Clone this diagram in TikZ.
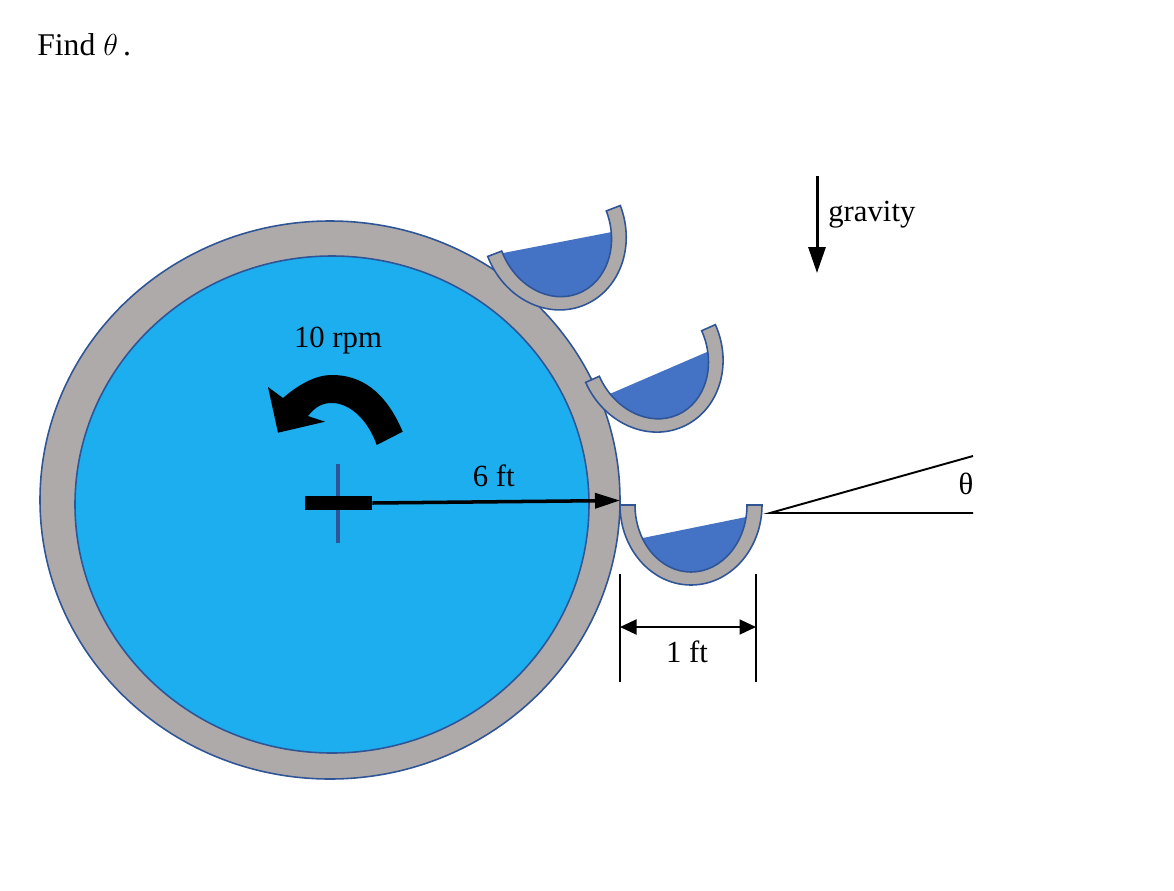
\documentclass[tikz,border=0pt]{standalone}
\usepackage{fontspec}
\setmainfont{Liberation Serif}
\usetikzlibrary{arrows.meta}
\definecolor{rimgrey}{HTML}{AEAAAA}
\definecolor{drumblue}{HTML}{1CAEEE}
\definecolor{waterblue}{HTML}{4472C4}
\definecolor{edgeblue}{HTML}{2F5597}
\tikzset{
  label/.style={font=\fontsize{17.5}{20}\selectfont, inner sep=0pt},
  rimline/.style={draw=edgeblue, line width=0.9pt, fill=rimgrey},
  dimline/.style={draw=black, line width=1.1pt},
  pics/bucket/.style 2 args={code={
    \begin{scope}
      \clip (-56,0) arc (180:360:56 and 67) -- cycle;
      \fill[waterblue] (-60,#1) -- (60,#2) -- (60,-80) -- (-60,-80) -- cycle;
    \end{scope}
    \path[rimline] (-71,0) arc (180:360:71 and 80) -- (56,0) arc (360:180:56 and 67) -- cycle;
  }}
}
\begin{document}
\begin{tikzpicture}[x=0.02cm, y=0.02cm]
  \useasboundingbox (0,-890) rectangle (1174,0);
  \node[anchor=base west, inner sep=0pt, font=\fontsize{18}{22}\selectfont] (title) at (37,-55) {Find $\theta$\,.};

  % drum
  \draw[rimline] (330,-500) ellipse (290 and 279);
  \draw[rimline, fill=drumblue] (332,-504.5) ellipse (257 and 248.5);

  % buckets
  \pic[rotate=21] at (554,-231) {bucket={-1.5}{-22.8}};
  \pic[rotate=24] at (650.5,-353.5) {bucket={-20.3}{-21.7}};
  \pic at (691,-505) {bucket={-35.4}{-11}};

  % hub and radius
  \draw[edgeblue, line width=2.8pt] (338,-464) -- (338,-543);
  \node[fill=black, minimum width=1.34cm, minimum height=0.28cm, inner sep=0pt] (hub) at (338.5,-503) {};
  \coordinate (rim) at (620,-500.5);
  \draw[-{Triangle[length=0.5cm, width=0.3cm]}, line width=2pt] (hub.east) -- node[label, above=7.3pt, pos=0.49] (radius) {6 ft} (rim);

  % rotation arrow
  \fill[black] (402.7,-431.7) .. controls (385,-390) and (360,-375) .. (332,-375)
    .. controls (315,-375) and (298,-385) .. (283,-398) -- (268,-387) -- (278,-432.7)
    -- (325,-421.7) -- (308,-416) .. controls (316,-406) and (323,-403) .. (332,-403)
    .. controls (350,-403) and (368,-420) .. (376.7,-445) -- cycle;
  \node[label] (speed) at (338,-341) {10 rpm};

  % gravity
  \coordinate (gtop) at (817,-176);
  \coordinate (gend) at (817,-273);
  \draw[-{Triangle[length=0.52cm, width=0.34cm]}, line width=1.7pt] (gtop) -- (gend);
  \node[label, anchor=west] (gravity) at (828,-215) {gravity};

  % angle
  \coordinate (apex) at (770,-513);
  \coordinate (aflat) at (973,-513);
  \coordinate (aup) at (973,-456);
  \draw[dimline] (aflat) -- (apex) -- (aup);
  \node[label] (angle) at (966,-484) {θ};

  % width
  \coordinate (la) at (620,-574);
  \coordinate (lb) at (620,-682);
  \coordinate (ra) at (756,-574);
  \coordinate (rb) at (756,-682);
  \draw[dimline] (la) -- (lb);
  \draw[dimline] (ra) -- (rb);
  \coordinate (dl) at (620,-627);
  \coordinate (dr) at (756,-627);
  \draw[{Triangle[length=0.33cm, width=0.3cm]}-{Triangle[length=0.33cm, width=0.3cm]}, dimline] (dl) -- (dr);
  \node[label] (width) at (687,-652) {1 ft};
\end{tikzpicture}
\end{document}
